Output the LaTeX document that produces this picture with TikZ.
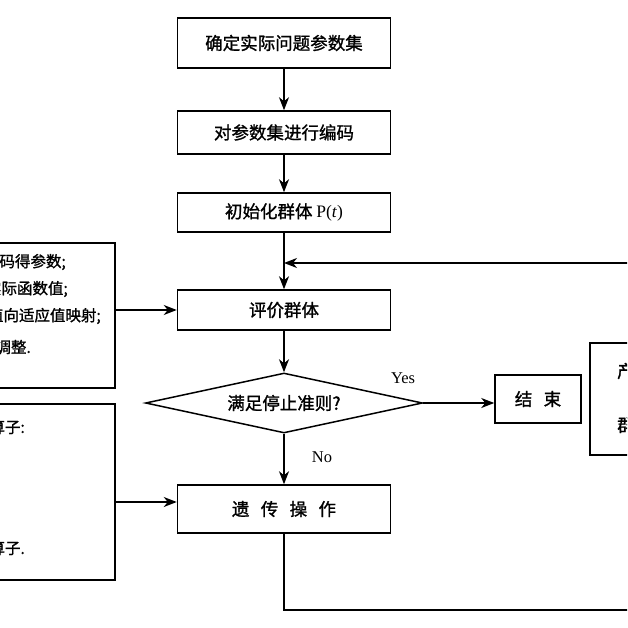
\documentclass[tikz,border=0pt]{standalone}
\usepackage{fontspec}
\setmainfont{Noto Sans CJK SC}[BoldFont={Noto Sans CJK SC Bold}]
\newfontfamily\cjkmed{Noto Sans CJK SC}[FakeBold=1.2]
\newfontfamily\latinserif{Liberation Serif}
\usetikzlibrary{shapes.geometric,arrows.meta}
\tikzset{
  box/.style={draw, line width=1.5pt, rectangle, inner sep=0pt, minimum width=213pt, font=\cjkmed\fontsize{17.5}{20}\selectfont},
  sidebox/.style={draw, line width=1.5pt, rectangle, inner sep=0pt},
  arr/.style={line width=1.5pt, -{Stealth[length=13pt,width=10pt,inset=4pt]}},
  ln/.style={line width=1.5pt},
  sidetext/.style={inner sep=0pt, anchor=east, font=\cjkmed\fontsize{15.5}{18}\selectfont},
  lbl/.style={inner sep=0pt, font=\latinserif\fontsize{16.5}{18}\selectfont}
}
\begin{document}
\begin{tikzpicture}[x=1pt,y=-1pt]
\useasboundingbox (0,0) rectangle (627,628);
\clip (0,0) rectangle (627,628);
\fill[white] (0,0) rectangle (627,628);

% main column
\node[box, minimum height=50pt] (b1) at (284,43) {确定实际问题参数集};
\node[box, minimum height=43pt] (b2) at (284,132.5) {对参数集进行编码};
\node[box, minimum height=39pt] (b3) at (284,212.5) {初始化群体 {\latinserif P(\textit{t})}};
\node[box, minimum height=40pt] (ev) at (284,310) {评价群体};
\node[draw, line width=1.5pt, diamond, aspect=4.6, inner sep=0pt, minimum width=277pt, minimum height=60pt, font=\cjkmed\fontsize{17.5}{20}\selectfont] (dia) at (284,403) {满足停止准则?};
\node[box, minimum height=48pt] (ga) at (284,509) {遗\hspace{0.65em}传\hspace{0.65em}操\hspace{0.65em}作};

% end box
\node[sidebox, minimum width=86pt, minimum height=48pt, font=\cjkmed\fontsize{17.5}{20}\selectfont] (end) at (538,399) {结\hspace{0.65em}束};

% right box (cut off)
\node[sidebox, minimum width=120pt, minimum height=112pt] (rb) at (650,399) {};
\node[inner sep=0pt, anchor=west, font=\cjkmed\fontsize{17.5}{20}\selectfont] (rt1) at (617,371) {产生新一代};
\node[inner sep=0pt, anchor=west, font=\cjkmed\fontsize{17.5}{20}\selectfont] (rt2) at (617,425) {群体};

% left boxes (cut off)
\node[sidebox, minimum width=215pt, minimum height=145pt] (la) at (7.5,315.5) {};
\node[sidetext] (la1) at (66,262) {1. 解码得参数;};
\node[sidetext] (la2) at (68,289) {2. 计算实际函数值;};
\node[sidetext] (la3) at (101,316) {3. 函数值向适应值映射;};
\node[sidetext] (la4) at (31,347) {4. 适应值调整.};

\node[sidebox, minimum width=215pt, minimum height=176pt] (lb) at (7.5,492) {};
\node[sidetext] (lb1) at (25,427) {1. 选择算子:};
\node[sidetext] (lb2) at (25,548) {4. 其他算子.};

% labels
\node[lbl] (yes) at (403,378) {Yes};
\node[lbl] (no) at (322,457) {No};

% connectors
\draw[arr] (b1) -- (b2);
\draw[arr] (b2) -- (b3);
\draw[arr] (b3) -- (ev);
\draw[arr] (ev) -- (dia);
\draw[arr] (dia) -- (ga);
\draw[arr] (dia.east) -- (dia.east -| end.west);
\draw[arr] (ev.west -| la.east) -- (ev.west);
\draw[arr] ([yshift=7pt]ga.west -| lb.east) -- ([yshift=7pt]ga.west);

\coordinate (loopA) at (284,610);
\coordinate (loopB) at (700,610);
\coordinate (loopC) at (700,263);
\coordinate (loopD) at (284,263);
\draw[ln] (ga.south) -- (loopA) -- (loopB) -- (loopC);
\draw[arr] (loopC) -- (loopD);
\end{tikzpicture}
\end{document}
